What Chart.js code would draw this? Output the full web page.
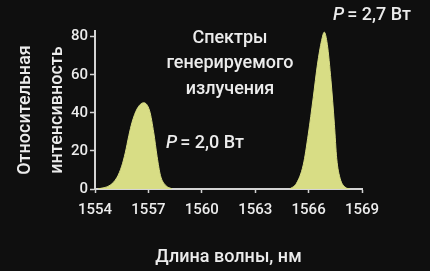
<!DOCTYPE html>
<html>

<head>
  <title>Спектры генерируемого излучения</title>
  <script src="https://cdn.jsdelivr.net/npm/chart.js@4/dist/chart.umd.min.js"></script>
  <style>
    body {
      margin: 0;
      background-color: #0f0f0f;
    }

    canvas {
      display: block;
    }
  </style>
</head>

<body>
  <canvas id="spectrChart" width="430" height="271"></canvas>

  <script>
    // Peak at P = 2,0 W
    const wl1 = [1554.17, 1554.85, 1555.23, 1555.5, 1555.7, 1555.9, 1556.08, 1556.36, 1556.73,
      1557.07, 1557.3, 1557.49, 1557.68, 1557.96, 1558.34];
    const int1 = [0, 2, 6, 12, 19, 28, 35, 42, 45.3, 41, 29.6, 17, 7, 2, 0];

    // Peak at P = 2,7 W
    const wl2 = [1564.94, 1565.32, 1565.7, 1565.98, 1566.26, 1566.5, 1566.73, 1566.88, 1567.05,
      1567.26, 1567.45, 1567.58, 1567.77, 1568.05, 1568.34];
    const int2 = [0, 3, 12.7, 28.6, 48, 65.6, 78, 82.4, 76, 56.8, 33.9, 16, 5.6, 1, 0];

    const xTicks = [1554, 1557, 1560, 1563, 1566, 1569];
    const yTicks = [0, 20, 40, 60, 80];

    const fillColor = '#d8dd85';
    const axisColor = '#d4d4d4';
    const textColor = '#ececec';
    const font = 'Roboto, "Liberation Sans", sans-serif';

    function toPoints(xs, ys) {
      return xs.map((x, i) => ({ x: x, y: ys[i] }));
    }

    // dark background + annotations
    const decor = {
      id: 'decor',
      beforeDraw(chart) {
        const c = chart.ctx;
        c.save();
        c.fillStyle = '#0f0f0f';
        c.fillRect(0, 0, chart.width, chart.height);
        c.restore();
      },
      afterDraw(chart) {
        const c = chart.ctx;
        c.save();
        c.fillStyle = textColor;
        c.textBaseline = 'middle';
        c.textAlign = 'center';
        c.font = '500 18px ' + font;
        c.fillText('Спектры', 230, 38);
        c.fillText('генерируемого', 230, 63);
        c.fillText('излучения', 230, 89);

        function power(txt, x, y) {
          c.textAlign = 'left';
          c.font = 'italic 500 18px ' + font;
          c.fillText('P', x, y);
          const w = c.measureText('P').width;
          c.font = '500 18px ' + font;
          c.fillText(txt, x + w + 3, y);
        }
        power('= 2,0 Вт', 166, 143);
        power('= 2,7 Вт', 333, 15);
        c.restore();
      }
    };

    const ds = (data) => ({
      data: data,
      borderColor: fillColor,
      backgroundColor: fillColor,
      borderWidth: 1,
      fill: 'origin',
      pointRadius: 0,
      cubicInterpolationMode: 'monotone'
    });

    new Chart(document.getElementById('spectrChart'), {
      type: 'line',
      data: {
        datasets: [ds(toPoints(wl1, int1)), ds(toPoints(wl2, int2))]
      },
      options: {
        responsive: false,
        animation: false,
        layout: { padding: { top: 31, right: 68, left: 0, bottom: 0 } },
        plugins: {
          legend: { display: false },
          tooltip: { enabled: false }
        },
        scales: {
          x: {
            type: 'linear',
            min: 1554,
            max: 1569,
            afterBuildTicks: (s) => { s.ticks = xTicks.map(v => ({ value: v })); },
            afterFit: (s) => { s.height = 82; },
            border: { color: axisColor, width: 2 },
            grid: { drawOnChartArea: false, color: axisColor, tickLength: 4, tickWidth: 1.5 },
            ticks: {
              color: textColor, padding: 8, font: { family: font, size: 15, weight: 500 },
              callback: (v) => String(v)
            },
            title: {
              display: true,
              text: 'Длина волны, нм',
              color: textColor,
              font: { family: font, size: 18, weight: 500 },
              padding: { top: 20, bottom: 3 }
            }
          },
          y: {
            min: 0,
            max: 83,
            afterBuildTicks: (s) => { s.ticks = yTicks.map(v => ({ value: v })); },
            afterFit: (s) => { s.width = 95; },
            border: { color: axisColor, width: 2 },
            grid: { drawOnChartArea: false, color: axisColor, tickLength: 5, tickWidth: 1.5 },
            ticks: { color: textColor, padding: 2, font: { family: font, size: 15, weight: 500 } },
            title: {
              display: true,
              text: ['Относительная', 'интенсивность'],
              color: textColor,
              font: { family: font, size: 18, weight: 500, lineHeight: 1.75 },
              padding: { top: 10, bottom: 0 }
            }
          }
        }
      },
      plugins: [decor]
    });
  </script>
</body>

</html>
